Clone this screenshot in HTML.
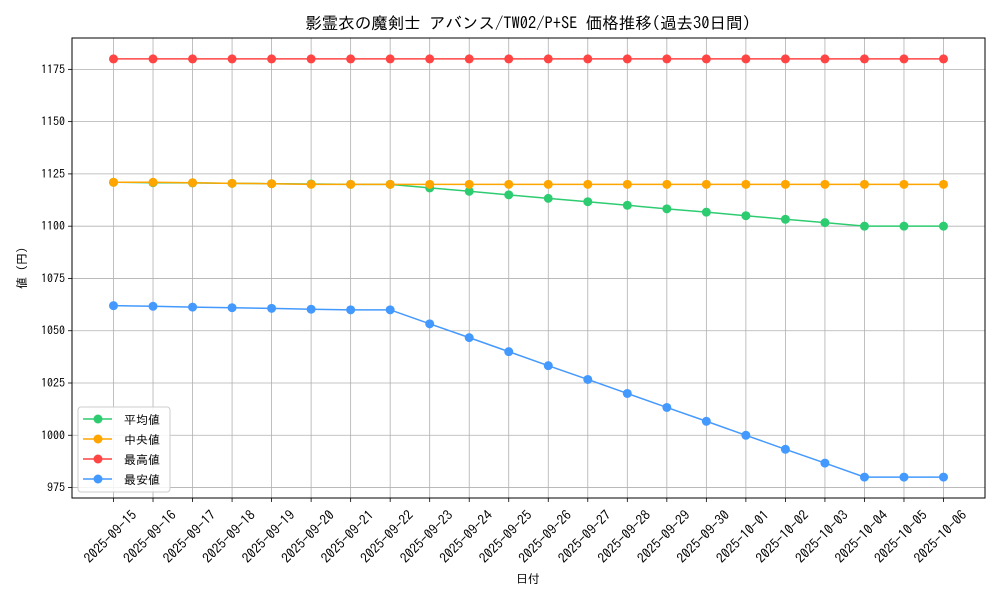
<!DOCTYPE html>
<html><head><meta charset="utf-8"><style>
body{margin:0;background:#fff;}
svg{font-family:"IPAGothic","Noto Sans CJK JP",sans-serif;}
</style></head><body>
<svg id="chart" width="1000" height="600" xmlns="http://www.w3.org/2000/svg">
<rect width="1000" height="600" fill="#fff"/>
<text x="528" y="29" text-anchor="middle" font-size="16.5">影霊衣の魔剣士 アバンス/TW02/P+SE 価格推移(過去30日間)</text>
<g id="grid"></g><g id="axes"></g><g id="series"></g>
<text x="528" y="583" text-anchor="middle" font-size="12">日付</text>
<text transform="translate(26,268) rotate(-90)" text-anchor="middle" font-size="12">値 (円)</text>
</svg>
<script>
const dates=["2025-09-15","2025-09-16","2025-09-17","2025-09-18","2025-09-19","2025-09-20","2025-09-21","2025-09-22","2025-09-23","2025-09-24","2025-09-25","2025-09-26","2025-09-27","2025-09-28","2025-09-29","2025-09-30","2025-10-01","2025-10-02","2025-10-03","2025-10-04","2025-10-05","2025-10-06"];
const meanVals=[1121,1120.8,1120.7,1120.5,1120.3,1120.2,1120,1120,1118.3,1116.7,1115,1113.3,1111.7,1110,1108.3,1106.7,1105,1103.3,1101.7,1100,1100,1100];
const medianVals=[1121,1121,1120.8,1120.5,1120.3,1120,1120,1120,1120,1120,1120,1120,1120,1120,1120,1120,1120,1120,1120,1120,1120,1120];
const maxVals=[1180,1180,1180,1180,1180,1180,1180,1180,1180,1180,1180,1180,1180,1180,1180,1180,1180,1180,1180,1180,1180,1180];
const minVals=[1062,1061.7,1061.3,1061,1060.7,1060.3,1060,1060,1053.3,1046.7,1040,1033.3,1026.7,1020,1013.3,1006.7,1000,993.3,986.7,980,980,980];
const yTicks=[975,1000,1025,1050,1075,1100,1125,1150,1175];
const seriesNames=["平均値","中央値","最高値","最安値"];
const NS="http://www.w3.org/2000/svg";
const L=72,R=985,T=38,B=498,yMin=970,yMax=1190;
const n=dates.length;
const xs=i=>L+(R-L)*(i+1.05)/(n-1+2.1);
const ys=v=>B-(B-T)*(v-yMin)/(yMax-yMin);
function mk(tag,attrs,parent){const e=document.createElementNS(NS,tag);for(const k in attrs)e.setAttribute(k,attrs[k]);parent.appendChild(e);return e;}
const grid=document.getElementById('grid'),axes=document.getElementById('axes'),ser=document.getElementById('series');
dates.forEach((d,i)=>{const x=xs(i);
 const g=mk('line',{x1:x,x2:x,y1:T,y2:B,stroke:'#b0b0b0','stroke-width':0.8},grid);
 
 
 const t=mk('line',{x1:x,x2:x,y1:B,y2:B+4,stroke:'#000','stroke-width':0.8},axes);
 
 
 const lb=mk('text',{transform:`translate(${x+24},${B+18}) rotate(-45)`,'text-anchor':'end','font-size':13.5},axes);
 lb.textContent=d;
 
 
});
yTicks.forEach(v=>{const y=ys(v);
 const g=mk('line',{x1:L,x2:R,y1:y,y2:y,stroke:'#b0b0b0','stroke-width':0.8},grid);
 
 
 const t=mk('line',{x1:L-4,x2:L,y1:y,y2:y,stroke:'#000','stroke-width':0.8},axes);
 
 
 const lb=mk('text',{x:L-7,y:y+4,'text-anchor':'end','font-size':12},axes);
 lb.textContent=v;
 
 
});
const frame=mk('rect',{x:L,y:T,width:R-L,height:B-T,fill:'none',stroke:'#000','stroke-width':1},axes);


const all=[meanVals,medianVals,maxVals,minVals];
const colors=['#2ecc71','#ffa500','#ff4444','#4499ff'];
const keys=['mean','median','max','min'];
all.forEach((vals,s)=>{
 const pl=mk('polyline',{points:vals.map((v,i)=>xs(i)+','+ys(v)).join(' '),fill:'none',stroke:colors[s],'stroke-width':1.5},ser);
 
 
 vals.forEach((v,i)=>{const c=mk('circle',{cx:xs(i),cy:ys(v),r:4.5,fill:colors[s]},ser);
  
  });
});
const lg=mk('g',{},ser);


mk('rect',{x:78,y:407,width:92,height:85,rx:3,fill:'#fff','fill-opacity':0.85,stroke:'#ccc','stroke-width':1},lg);
seriesNames.forEach((nm,s)=>{const y=419+s*20;
 const e=mk('g',{},lg);
 
 
 mk('line',{x1:83,x2:112,y1:y,y2:y,stroke:colors[s],'stroke-width':1.5},e);
 mk('circle',{cx:98,cy:y,r:4.5,fill:colors[s]},e);
 const t=mk('text',{x:124,y:y+5,'font-size':12},e);t.textContent=nm;
});
</script>
</body></html>
